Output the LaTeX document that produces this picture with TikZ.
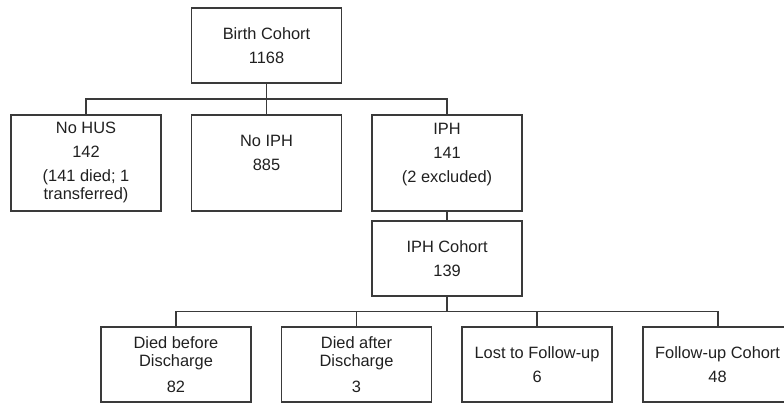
\documentclass[tikz,border=0pt]{standalone}
\usepackage{fontspec}
\setmainfont{Liberation Sans}
\usepackage{xcolor}
\usetikzlibrary{calc,positioning}
\definecolor{linegray}{HTML}{3A3A3A}
\definecolor{textgray}{HTML}{202020}
\tikzset{%
	block/.style    = {draw=linegray, line width=1.4pt, rectangle, minimum width = 112.5pt, minimum height = 56.25pt, inner sep=0pt, align=center, text=textgray, font=\fontsize{12.3}{13.5}\selectfont}, % Box
	tallblock/.style= {block, minimum height = 72pt}, % Second row
	waypoint/.style = {coordinate}, % Bus point
	link/.style     = {draw=linegray, line width=1.4pt},
}
\begin{document}
\begin{tikzpicture}[node distance = 135.4pt]
	\useasboundingbox (-199.9pt,34.1pt) rectangle (388.1pt,-270.4pt);
	\node[block] (bc) at (0,0) {Birth Cohort\\[4.5pt]1168};
	\node[tallblock, below of=bc, node distance = 88.1pt, text depth=15pt] (noiph) {No IPH\\[4.5pt]885};
	\node[tallblock, left of=noiph] (nohus) {No HUS\\[4.5pt]142\\[4.5pt](141 died; 1\\transferred)};
	\node[tallblock, right of=noiph, text depth=15pt] (iph) {IPH\\[4.5pt]141\\[4.5pt](2 excluded)};
	\node[block, below of=iph, node distance = 71.6pt] (iphc) {IPH Cohort\\[4.5pt]139};
	\node[block] (dbd) at (-67.9pt,-239.25pt) {Died before\\Discharge\\[6pt]82};
	\node[block, right of=dbd] (dad) {Died after\\Discharge\\[6pt]3};
	\node[block, right of=dad] (lfu) {Lost to Follow-up\\[4.5pt]6};
	\node[block, right of=lfu] (fuc) {Follow-up Cohort\\[4.5pt]48};
	\node[waypoint] (wp1) at ($(bc.south)!0.5!(noiph.north)$) {};
	\node[waypoint] (wp2) at ($(iphc.south)!0.5!(iphc.south |- dad.north)$) {};
	\draw[link] (bc) -- (noiph);
	\draw[link] (nohus.north) |- (wp1) -| (iph.north);
	\draw[link] (iph) -- (iphc);
	\draw[link] (iphc) -- (wp2);
	\draw[link] (dbd.north) |- (wp2) -| (fuc.north);
	\draw[link] (dad.north) -- (dad.north |- wp2);
	\draw[link] (lfu.north) -- (lfu.north |- wp2);
\end{tikzpicture}
\end{document}
